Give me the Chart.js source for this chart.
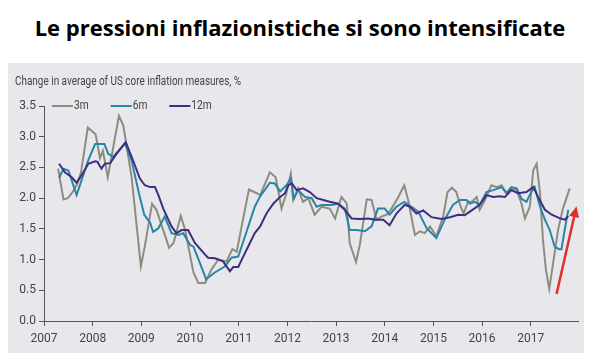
<!DOCTYPE html>
<html lang="it">
<head>
  <meta charset="UTF-8">
  <title>Le pressioni inflazionistiche si sono intensificate</title>
  <style>
    /* page layout */
    body {
      margin: 0;
      width: 600px;
      height: 360px;
      background: #ffffff;
      position: relative;
      overflow: hidden;
    }

    .headline {
      position: absolute;
      left: 0;
      top: 12px;
      width: 600px;
      text-align: center;
      font-family: 'Open Sans', sans-serif;
      font-weight: 700;
      font-size: 22px;
      color: #000;
    }

    .panel {
      position: absolute;
      left: 8px;
      top: 63px;
      width: 576px;
      height: 290px;
      background: #e8e8ec;
    }
  </style>
</head>
<body>
  <div class="headline">Le pressioni inflazionistiche si sono intensificate</div>
  <div class="panel">
    <canvas id="inflChart" width="576" height="290"></canvas>
  </div>

  <script src="https://cdn.jsdelivr.net/npm/chart.js"></script>
  <script>
    // series data (decimal year, % change)
    const years3m = [2007.29, 2007.40, 2007.49, 2007.57, 2007.67, 2007.76, 2007.90, 2008.06, 2008.15, 2008.21,
      2008.31, 2008.54, 2008.63, 2008.80, 2008.99, 2009.07, 2009.22, 2009.31, 2009.57, 2009.66,
      2009.81, 2009.90, 2010.07, 2010.17, 2010.31, 2010.44, 2010.58, 2010.75, 2010.87, 2010.96,
      2011.06, 2011.21, 2011.37, 2011.44, 2011.64, 2011.76, 2011.88, 2011.98, 2012.07, 2012.12,
      2012.22, 2012.32, 2012.43, 2012.56, 2012.70, 2012.87, 2012.98, 2013.11, 2013.22, 2013.28,
      2013.41, 2013.49, 2013.63, 2013.73, 2013.83, 2013.93, 2014.04, 2014.14, 2014.28, 2014.40,
      2014.48, 2014.62, 2014.72, 2014.82, 2014.93, 2015.06, 2015.20, 2015.29, 2015.38, 2015.47,
      2015.56, 2015.62, 2015.71, 2015.79, 2015.89, 2015.95, 2016.06, 2016.19, 2016.30, 2016.40,
      2016.50, 2016.60, 2016.71, 2016.81, 2016.88, 2016.98, 2017.05, 2017.12, 2017.19, 2017.25,
      2017.31, 2017.38, 2017.46, 2017.56, 2017.66, 2017.80];
    const values3m = [2.48, 1.98, 2.00, 2.08, 2.21, 2.42, 3.15, 3.04, 2.65, 2.77,
      2.34, 3.34, 3.18, 2.34, 0.89, 1.21, 1.91, 1.81, 1.19, 1.27,
      1.71, 1.48, 0.79, 0.62, 0.62, 0.84, 1.00, 0.97, 1.17, 1.13,
      1.54, 2.14, 2.08, 2.05, 2.42, 2.34, 1.83, 2.08, 2.40, 1.97,
      2.16, 1.94, 2.00, 1.73, 1.86, 1.83, 1.67, 2.02, 1.91, 1.27,
      0.96, 1.25, 1.98, 1.97, 1.65, 1.70, 1.73, 1.83, 2.02, 2.21,
      1.97, 1.40, 1.46, 1.43, 1.54, 1.38, 1.70, 2.10, 2.17, 2.10,
      1.86, 1.75, 1.94, 1.94, 2.02, 1.81, 1.97, 2.21, 2.18, 2.21,
      2.08, 2.16, 2.13, 1.91, 1.67, 1.86, 2.45, 2.56, 2.08, 1.32,
      0.84, 0.52, 0.95, 1.48, 1.83, 2.16];

    const years6m = [2007.31, 2007.40, 2007.50, 2007.57, 2007.67, 2007.77, 2007.91, 2008.05, 2008.24, 2008.32,
      2008.42, 2008.66, 2008.80, 2008.95, 2009.06, 2009.18, 2009.24, 2009.35, 2009.48, 2009.62,
      2009.76, 2009.86, 2010.00, 2010.07, 2010.20, 2010.33, 2010.51, 2010.72, 2010.85, 2010.99,
      2011.13, 2011.33, 2011.44, 2011.64, 2011.74, 2011.85, 2011.98, 2012.07, 2012.13, 2012.22,
      2012.36, 2012.50, 2012.60, 2012.70, 2012.91, 2013.04, 2013.18, 2013.28, 2013.42, 2013.59,
      2013.73, 2013.86, 2014.00, 2014.10, 2014.24, 2014.40, 2014.55, 2014.69, 2014.86, 2015.06,
      2015.23, 2015.40, 2015.54, 2015.68, 2015.75, 2015.85, 2015.95, 2016.09, 2016.23, 2016.40,
      2016.50, 2016.60, 2016.71, 2016.81, 2016.91, 2017.01, 2017.08, 2017.19, 2017.29, 2017.39,
      2017.49, 2017.58, 2017.63, 2017.72, 2017.77];
    const values6m = [2.33, 2.48, 2.45, 2.29, 2.05, 2.29, 2.62, 2.88, 2.88, 2.72,
      2.67, 2.89, 2.61, 2.08, 1.73, 1.60, 1.45, 1.51, 1.70, 1.43,
      1.40, 1.43, 1.24, 1.21, 0.95, 0.68, 0.79, 0.89, 1.03, 1.05,
      1.38, 1.86, 2.03, 2.25, 2.24, 2.11, 2.21, 2.32, 1.99, 2.13,
      2.02, 2.00, 1.86, 1.89, 1.89, 1.91, 1.83, 1.48, 1.48, 1.46,
      1.54, 1.83, 1.83, 1.73, 1.86, 1.94, 1.86, 1.78, 1.51, 1.35,
      1.65, 1.89, 1.97, 1.97, 1.91, 1.94, 1.89, 2.10, 2.13, 2.18,
      2.08, 2.18, 2.16, 1.99, 1.94, 2.10, 2.18, 1.86, 1.65, 1.48,
      1.21, 1.17, 1.17, 1.59, 1.81];

    const years12m = [2007.31, 2007.43, 2007.57, 2007.67, 2007.77, 2007.91, 2008.05, 2008.10, 2008.18, 2008.25,
      2008.36, 2008.49, 2008.68, 2008.83, 2008.97, 2009.07, 2009.18, 2009.28, 2009.35, 2009.45,
      2009.62, 2009.72, 2009.83, 2009.96, 2010.10, 2010.31, 2010.37, 2010.51, 2010.68, 2010.82,
      2010.89, 2010.99, 2011.13, 2011.23, 2011.33, 2011.44, 2011.57, 2011.71, 2011.85, 2011.95,
      2012.02, 2012.09, 2012.19, 2012.32, 2012.46, 2012.60, 2012.74, 2012.87, 2013.04, 2013.18,
      2013.32, 2013.49, 2013.66, 2013.80, 2013.97, 2014.10, 2014.24, 2014.41, 2014.52, 2014.65,
      2014.79, 2014.96, 2015.17, 2015.34, 2015.51, 2015.64, 2015.75, 2015.95, 2016.09, 2016.23,
      2016.36, 2016.47, 2016.60, 2016.74, 2016.91, 2017.05, 2017.15, 2017.29, 2017.43, 2017.60,
      2017.70, 2017.77];
    const values12m = [2.56, 2.42, 2.34, 2.25, 2.37, 2.56, 2.60, 2.59, 2.48, 2.56,
      2.57, 2.72, 2.91, 2.61, 2.32, 2.21, 2.18, 2.18, 2.05, 1.83,
      1.54, 1.43, 1.48, 1.48, 1.27, 1.08, 1.03, 1.02, 0.97, 0.81,
      0.88, 0.88, 1.11, 1.27, 1.43, 1.54, 1.75, 1.91, 2.02, 2.08,
      2.21, 2.24, 2.13, 2.16, 2.10, 2.00, 1.97, 1.94, 1.91, 1.81,
      1.67, 1.66, 1.67, 1.65, 1.65, 1.56, 1.75, 1.89, 1.86, 1.75,
      1.80, 1.69, 1.66, 1.69, 1.73, 1.72, 1.78, 1.89, 2.05, 2.02,
      2.03, 2.02, 2.13, 2.08, 2.10, 2.18, 2.02, 1.81, 1.73, 1.67,
      1.65, 1.71];

    const seriesLabels = ['3m', '6m', '12m'];
    const yearTicks = [2007, 2008, 2009, 2010, 2011, 2012, 2013, 2014, 2015, 2016, 2017];
    const subtitle = 'Change in average of US core inflation measures, %';
    // red arrow: tail and head (year, value)
    const arrowYears = [2017.53, 2017.94];
    const arrowValues = [0.44, 1.87];

    const baseFont = "Roboto, 'Liberation Sans', sans-serif";
    Chart.defaults.font.family = baseFont;
    Chart.defaults.color = '#444';

    function toPoints(xs, ys) {
      return xs.map((x, i) => ({ x: x, y: ys[i] }));
    }

    // draw text squeezed horizontally, the source uses a condensed face
    function condensedText(ctx, text, x, y, squeeze) {
      ctx.save();
      ctx.translate(x, y);
      ctx.scale(squeeze, 1);
      ctx.fillText(text, 0, 0);
      ctx.restore();
      return ctx.measureText(text).width * squeeze;
    }

    // subtitle and legend sitting on the top line of the plot
    const headerBits = {
      id: 'headerBits',
      afterDraw(chart) {
        const ctx = chart.ctx;
        const area = chart.chartArea;
        ctx.save();
        ctx.fillStyle = '#444';
        ctx.textBaseline = 'middle';
        ctx.font = '12px ' + baseFont;
        condensedText(ctx, subtitle, 7, 19, 226 / ctx.measureText(subtitle).width);

        let x = area.left + 8;
        const y = area.top;
        seriesLabels.forEach((label, i) => {
          const ds = chart.data.datasets[i];
          ctx.strokeStyle = ds.borderColor;
          ctx.lineWidth = 2;
          ctx.beginPath();
          ctx.moveTo(x, y);
          ctx.lineTo(x + 21, y);
          ctx.stroke();
          const w = condensedText(ctx, label, x + 22, y, 0.85);
          x += 22 + w + 22;
        });
        ctx.restore();
      }
    };

    // red arrow drawn through the chart scales
    const redArrow = {
      id: 'redArrow',
      afterDatasetsDraw(chart) {
        const xs = chart.scales.x, ys = chart.scales.y;
        const x0 = xs.getPixelForValue(arrowYears[0]), y0 = ys.getPixelForValue(arrowValues[0]);
        const x1 = xs.getPixelForValue(arrowYears[1]), y1 = ys.getPixelForValue(arrowValues[1]);
        const ang = Math.atan2(y1 - y0, x1 - x0);
        const ctx = chart.ctx;
        ctx.save();
        ctx.strokeStyle = '#e0302a';
        ctx.fillStyle = '#e0302a';
        ctx.lineWidth = 2.5;
        ctx.beginPath();
        ctx.moveTo(x0, y0);
        ctx.lineTo(x1 - 6 * Math.cos(ang), y1 - 6 * Math.sin(ang));
        ctx.stroke();
        ctx.beginPath();
        ctx.moveTo(x1, y1);
        ctx.lineTo(x1 - 11 * Math.cos(ang) + 5 * Math.sin(ang), y1 - 11 * Math.sin(ang) - 5 * Math.cos(ang));
        ctx.lineTo(x1 - 11 * Math.cos(ang) - 5 * Math.sin(ang), y1 - 11 * Math.sin(ang) + 5 * Math.cos(ang));
        ctx.closePath();
        ctx.fill();
        ctx.restore();
      }
    };

    const ctx = document.getElementById('inflChart').getContext('2d');
    new Chart(ctx, {
      type: 'line',
      data: {
        datasets: [
          { label: seriesLabels[0], data: toPoints(years3m, values3m), borderColor: '#8c8d80', order: 3 },
          { label: seriesLabels[1], data: toPoints(years6m, values6m), borderColor: '#2a84a6', order: 2 },
          { label: seriesLabels[2], data: toPoints(years12m, values12m), borderColor: '#3e2d80', order: 1 }
        ]
      },
      options: {
        responsive: false,
        animation: false,
        events: [],
        elements: {
          line: { borderWidth: 2, tension: 0 },
          point: { radius: 0 }
        },
        layout: { padding: { left: 7, right: 6, top: 43, bottom: 0 } },
        plugins: {
          legend: { display: false },
          tooltip: { enabled: false },
          title: { display: false }
        },
        scales: {
          x: {
            type: 'linear',
            min: 2007,
            max: 2017.97,
            afterFit(scale) { scale.height = 32; },
            afterBuildTicks(scale) { scale.ticks = yearTicks.map(v => ({ value: v })); },
            ticks: {
              autoSkip: false,
              maxRotation: 0,
              padding: 6,
              color: '#444',
              font: { size: 12 },
              callback: v => String(v)
            },
            grid: { drawOnChartArea: false, drawTicks: true, tickLength: 5, color: '#555' },
            border: { color: '#555', width: 1 }
          },
          y: {
            min: 0,
            max: 3.5,
            afterFit(scale) { scale.width = 29; },
            ticks: {
              stepSize: 0.5,
              padding: 3,
              color: '#444',
              font: { size: 12 },
              callback: v => v.toFixed(1)
            },
            grid: { drawOnChartArea: false, drawTicks: true, tickLength: 5, color: '#555' },
            border: { color: '#555', width: 1 }
          }
        }
      },
      plugins: [headerBits, redArrow]
    });
  </script>
</body>
</html>
